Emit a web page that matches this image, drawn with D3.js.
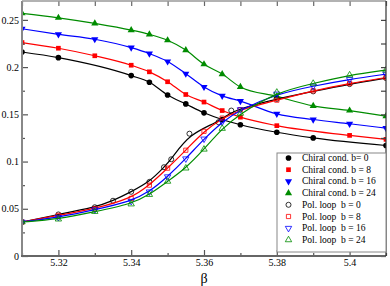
<!DOCTYPE html>
<html>
<head>
<meta charset="utf-8">
<script src="https://cdn.jsdelivr.net/npm/d3@7"></script>
<style>
  body { margin: 0; background: #fff; }
  text { font-family: "Liberation Serif", "DejaVu Serif", serif; }
</style>
</head>
<body>
<div id="chart"></div>
<script>
// beta values and observables
var chiralBeta0 = [5.31, 5.32, 5.34, 5.345, 5.35, 5.355, 5.36, 5.365, 5.37, 5.38, 5.39, 5.41]
var chiral0 = [0.216, 0.210, 0.191, 0.184, 0.1705, 0.161, 0.1516, 0.1445, 0.139, 0.131, 0.125, 0.117]

var chiralBeta8 = [5.31, 5.32, 5.33, 5.34, 5.345, 5.35, 5.355, 5.36, 5.365, 5.37, 5.38, 5.40, 5.41]
var chiral8 = [0.226, 0.220, 0.212, 0.202, 0.195, 0.1845, 0.171, 0.163, 0.154, 0.147, 0.138, 0.1277, 0.1235]

var chiralBeta16 = [5.31, 5.32, 5.33, 5.34, 5.345, 5.35, 5.355, 5.36, 5.365, 5.37, 5.38, 5.39, 5.40, 5.41]
var chiral16 = [0.2406, 0.2347, 0.2295, 0.2206, 0.2143, 0.206, 0.193, 0.179, 0.1695, 0.164, 0.1505, 0.1445, 0.140, 0.1354]

var chiralBeta24 = [5.31, 5.32, 5.33, 5.34, 5.345, 5.35, 5.355, 5.36, 5.365, 5.37, 5.38, 5.39, 5.40, 5.41]
var chiral24 = [0.257, 0.2522, 0.2463, 0.2392, 0.2347, 0.2284, 0.218, 0.203, 0.1926, 0.179, 0.169, 0.159, 0.154, 0.148]

var polBeta0 = [5.31, 5.32, 5.33, 5.335, 5.34, 5.345, 5.349, 5.351, 5.356, 5.364, 5.3675, 5.38, 5.39, 5.40, 5.41]
var pol0 = [0.036, 0.044, 0.0516, 0.0585, 0.068, 0.0785, 0.094, 0.1024, 0.1295, 0.1417, 0.154, 0.1663, 0.1743, 0.182, 0.1884]

var polBeta8 = [5.31, 5.32, 5.33, 5.34, 5.345, 5.35, 5.355, 5.36, 5.365, 5.37, 5.38, 5.39, 5.40, 5.41]
var pol8 = [0.036, 0.043, 0.050, 0.061, 0.075, 0.093, 0.112, 0.132, 0.146, 0.155, 0.165, 0.175, 0.1828, 0.189]

var polBeta16 = [5.31, 5.32, 5.33, 5.34, 5.345, 5.35, 5.355, 5.36, 5.365, 5.37, 5.38, 5.39, 5.40, 5.41]
var pol16 = [0.036, 0.041, 0.049, 0.058, 0.068, 0.084, 0.103, 0.124, 0.142, 0.155, 0.1716, 0.180, 0.187, 0.1926]

var polBeta24 = [5.31, 5.32, 5.33, 5.34, 5.345, 5.35, 5.355, 5.36, 5.365, 5.37, 5.38, 5.39, 5.40, 5.41]
var pol24 = [0.036, 0.039, 0.047, 0.055, 0.065, 0.079, 0.093, 0.113, 0.135, 0.151, 0.1733, 0.1827, 0.1916, 0.1968]

var legendLabels = ["Chiral cond. b= 0", "Chiral cond. b = 8", "Chiral cond. b = 16", "Chiral cond. b = 24",
                    "Pol. loop  b = 0", "Pol. loop  b = 8", "Pol. loop  b = 16", "Pol. loop  b = 24"]

var xTicks = [5.32, 5.34, 5.36, 5.38, 5.40]
var xTickLabels = ["5.32", "5.34", "5.36", "5.38", "5.4"]
var xMinor = [5.31, 5.33, 5.35, 5.37, 5.39, 5.41]
var yTicks = [0, 0.05, 0.1, 0.15, 0.2, 0.25]
var yTickLabels = ["0", "0.05", "0.1", "0.15", "0.2", "0.25"]
var yMinor = [0.025, 0.075, 0.125, 0.175, 0.225]

var W = 390, H = 286
// plot box in pixels (don't call these top/left, window.top is read only)
var pL = 22, pR = 386, pT = 1, pB = 256

var x = d3.scaleLinear().domain([5.31, 5.41]).range([pL, pR])
var y = d3.scaleLinear().domain([0, 0.27]).range([pB, pT])

var svg = d3.select("#chart").append("svg")
    .attr("width", W)
    .attr("height", H)

svg.append("clipPath").attr("id", "plotclip")
  .append("rect").attr("x", pL).attr("y", pT).attr("width", pR - pL).attr("height", pB - pT)

var green = "#008c00"
var series = [
  {beta: chiralBeta0, val: chiral0, color: "#000", shape: "circle", filled: true},
  {beta: chiralBeta8, val: chiral8, color: "#ff0000", shape: "square", filled: true},
  {beta: chiralBeta16, val: chiral16, color: "#0000ff", shape: "down", filled: true},
  {beta: chiralBeta24, val: chiral24, color: green, shape: "up", filled: true},
  {beta: polBeta0, val: pol0, color: "#000", shape: "circle", filled: false},
  {beta: polBeta8, val: pol8, color: "#ff0000", shape: "square", filled: false},
  {beta: polBeta16, val: pol16, color: "#0000ff", shape: "down", filled: false},
  {beta: polBeta24, val: pol24, color: green, shape: "up", filled: false}
]

function symbolPath(shape, filled) {
  var s = filled ? 1 : 0.8
  if (shape == "circle") return d3.symbol(d3.symbolCircle, 25 * s)()
  if (shape == "square") return d3.symbol(d3.symbolSquare, 22 * s)()
  return d3.symbol(d3.symbolTriangle, 22 * s)()
}

function drawMarker(g, shape, filled, color, px, py) {
  g.append("path")
    .attr("d", symbolPath(shape, filled))
    .attr("transform", "translate(" + px + "," + py + ")" + (shape == "down" ? " rotate(180)" : ""))
    .attr("fill", filled ? color : "none")
    .attr("stroke", color)
    .attr("stroke-width", filled ? 0 : 0.8)
}

var plot = svg.append("g").attr("clip-path", "url(#plotclip)")

series.forEach(function(s) {
  var pts = s.beta.map(function(b, i) { return [b, s.val[i]] })
  var line = d3.line()
    .x(function(d) { return x(d[0]) })
    .y(function(d) { return y(d[1]) })
    .curve(s.filled ? d3.curveMonotoneX : d3.curveBasis)
  plot.append("path")
    .attr("d", line(pts))
    .attr("fill", "none")
    .attr("stroke", s.color)
    .attr("stroke-width", 1.2)
  pts.forEach(function(p) {
    drawMarker(plot, s.shape, s.filled, s.color, x(p[0]), y(p[1]))
  })
})

// axes: ticks point inward on all four sides
function styleAxis(g, color) {
  g.select(".domain").remove()
  g.attr("font-family", null)
  g.selectAll(".tick line").attr("stroke", color).attr("stroke-width", 1.2)
  g.selectAll(".tick text").attr("fill", "#000")
    .style("font-family", "'Liberation Serif', serif").style("font-size", "10px")
}

var xAxis = svg.append("g").attr("transform", "translate(0," + pB + ")")
  .call(d3.axisBottom(x).tickValues(xTicks).tickSize(-6).tickPadding(3)
    .tickFormat(function(d, i) { return xTickLabels[i] }))
styleAxis(xAxis, "#555")
var xAxisMinor = svg.append("g").attr("transform", "translate(0," + pB + ")")
  .call(d3.axisBottom(x).tickValues(xMinor).tickSize(-3).tickFormat(""))
styleAxis(xAxisMinor, "#555")

var yAxis = svg.append("g").attr("transform", "translate(" + pL + ",0)")
  .call(d3.axisLeft(y).tickValues(yTicks).tickSize(-6).tickPadding(3)
    .tickFormat(function(d, i) { return yTickLabels[i] }))
styleAxis(yAxis, "#555")
var yAxisMinor = svg.append("g").attr("transform", "translate(" + pL + ",0)")
  .call(d3.axisLeft(y).tickValues(yMinor).tickSize(-3).tickFormat(""))
styleAxis(yAxisMinor, "#555")

var topAxis = svg.append("g").attr("transform", "translate(0," + pT + ")")
  .call(d3.axisTop(x).tickValues(xTicks.concat(xMinor)).tickSize(-5).tickFormat(""))
styleAxis(topAxis, "#666")
var rightAxis = svg.append("g").attr("transform", "translate(" + pR + ",0)")
  .call(d3.axisRight(y).tickValues(yTicks.concat(yMinor)).tickSize(-5).tickFormat(""))
styleAxis(rightAxis, "#444")

// frame
svg.append("line").attr("x1", pL).attr("x2", pL).attr("y1", pT).attr("y2", pB)
  .attr("stroke", "#888").attr("stroke-width", 2)
svg.append("line").attr("x1", pL - 1).attr("x2", pR).attr("y1", pB).attr("y2", pB)
  .attr("stroke", "#666").attr("stroke-width", 2)
svg.append("line").attr("x1", pL).attr("x2", pR).attr("y1", pT).attr("y2", pT)
  .attr("stroke", "#999").attr("stroke-width", 1.5)
svg.append("line").attr("x1", pR).attr("x2", pR).attr("y1", pT).attr("y2", pB)
  .attr("stroke", "#333").attr("stroke-width", 1.2)

svg.append("text")
  .attr("x", (pL + pR) / 2)
  .attr("y", 283)
  .attr("text-anchor", "middle")
  .style("font-size", "14px")
  .text("β")

// legend
var lg = svg.append("g")
lg.append("rect")
  .attr("x", 277).attr("y", 153).attr("width", 109).attr("height", 99)
  .attr("fill", "#fff").attr("stroke", "#888").attr("stroke-width", 1)

series.forEach(function(s, i) {
  var ly = 161 + i * 11.7
  drawMarker(lg, s.shape, s.filled, s.color, 288.5, ly - 3)
  lg.append("text")
    .attr("x", 302)
    .attr("y", ly)
    .style("font-size", "9.5px")
    .style("white-space", "pre")
    .text(legendLabels[i])
})
</script>
</body>
</html>
